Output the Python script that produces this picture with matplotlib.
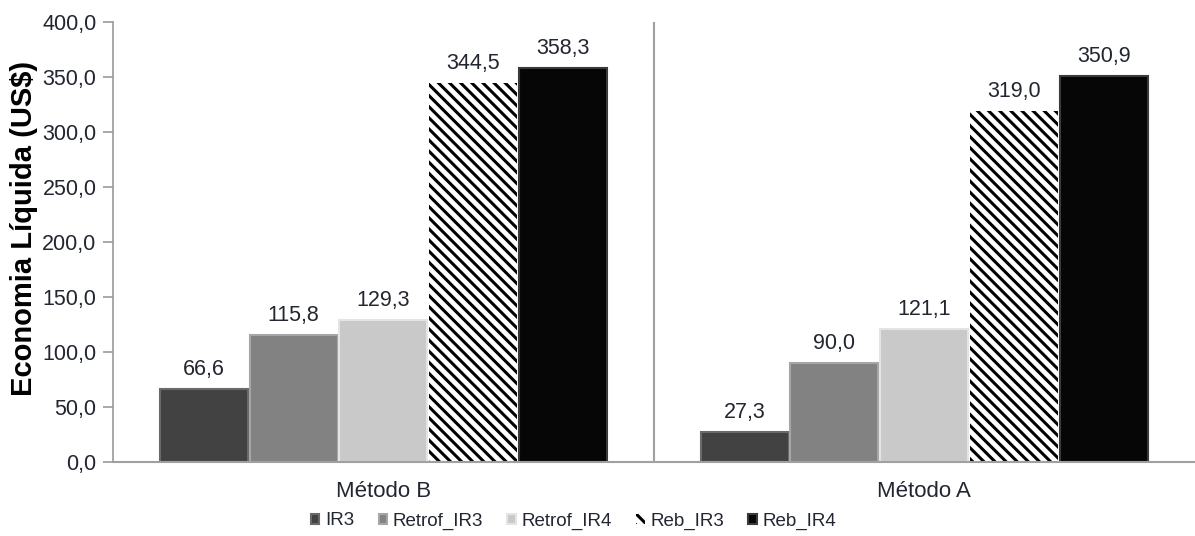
import matplotlib
matplotlib.use("Agg")
import matplotlib.pyplot as plt
import numpy as np

plt.rcParams['font.family'] = ['Liberation Sans', 'DejaVu Sans']
plt.rcParams['hatch.linewidth'] = 2.2

categories = ['Método B', 'Método A']
series = ['IR3', 'Retrof_IR3', 'Retrof_IR4', 'Reb_IR3', 'Reb_IR4']
values = {
    'IR3': [66.6, 27.3],
    'Retrof_IR3': [115.8, 90.0],
    'Retrof_IR4': [129.3, 121.1],
    'Reb_IR3': [344.5, 319.0],
    'Reb_IR4': [358.3, 350.9],
}
yticks = [0, 50, 100, 150, 200, 250, 300, 350, 400]

facecolors = ['#424242', '#828282', '#c9c9c9', 'white', '#060606']
edgecolors = ['#6a6a6a', '#a6a6a6', '#e4e4e4', 'black', '#3a3a3a']
hatched = [False, False, False, True, False]

fig = plt.figure(figsize=(11.95, 5.36), dpi=100)
ax = fig.add_axes([0.0946, 0.138, 0.905, 0.821])

x = np.arange(len(categories))
n = len(series)
bw = 0.166
txtc = '#222630'
for i, s in enumerate(series):
    pos = x + (i - (n - 1) / 2) * bw
    if hatched[i]:
        bars = ax.bar(pos, values[s], bw * 0.98, color='white', edgecolor='black',
                      hatch='\\\\\\', linewidth=0, label=s, zorder=2)
    else:
        bars = ax.bar(pos, values[s], bw * 0.98, color=facecolors[i],
                      edgecolor=edgecolors[i], linewidth=1.5, label=s, zorder=2)
    for b, v in zip(bars, values[s]):
        ax.text(b.get_x() + b.get_width() / 2, v + 8, f"{v:.1f}".replace('.', ','),
                ha='center', va='bottom', fontsize=15.5, color=txtc)

ax.set_xlim(-0.5, 1.5)
ax.set_ylim(0, 400)
ax.set_yticks(yticks)
ax.set_yticklabels([f"{t:.1f}".replace('.', ',') for t in yticks], fontsize=15.5, color=txtc)
ax.set_xticks(x)
ax.set_xticklabels(categories, fontsize=16, color=txtc)
ax.tick_params(axis='x', length=0, pad=14)
ax.tick_params(axis='y', length=7, color='#9a9a9a', width=1.2, pad=5)
ax.axvline(0.5, color='#a0a0a0', linewidth=1.5, zorder=1)
for sp in ['top', 'right']:
    ax.spines[sp].set_visible(False)
ax.spines['left'].set_color('#9a9a9a')
ax.spines['left'].set_linewidth(1.2)
ax.spines['bottom'].set_color('#a0a0a0')
ax.spines['bottom'].set_linewidth(1.5)
ax.set_ylabel('Economia Líquida (US$)', fontsize=21, fontweight='bold')
ax.yaxis.set_label_coords(-0.069, 0.53)

leg = fig.legend(loc='center', bbox_to_anchor=(0.48, 0.028), ncol=5, frameon=False,
                 fontsize=13.5, handlelength=0.45, handleheight=0.45, handletextpad=0.3,
                 columnspacing=1.3)
for t in leg.get_texts():
    t.set_color(txtc)

fig.savefig('out.png', dpi=100)
